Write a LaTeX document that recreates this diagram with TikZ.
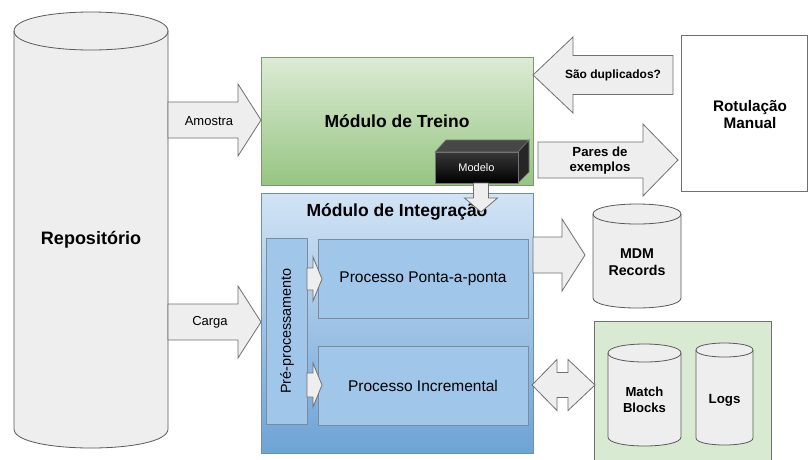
\documentclass[tikz,border=0pt]{standalone}
\usepackage{fontspec}
\setmainfont{Liberation Sans}

\definecolor{greenTop}{HTML}{DCEBD5}
\definecolor{greenBot}{HTML}{96C582}
\definecolor{greenEdge}{HTML}{7A9A6C}
\definecolor{blueTop}{HTML}{D2E4F5}
\definecolor{blueBot}{HTML}{6DA3D6}
\definecolor{blueEdge}{HTML}{6F8FB0}
\definecolor{procFill}{HTML}{A0C6EA}
\definecolor{procEdge}{HTML}{7D8C9C}
\definecolor{paleGrey}{HTML}{EEEEEE}
\definecolor{edgeGrey}{HTML}{707070}
\definecolor{storeFill}{HTML}{D9EAD3}

\tikzset{
  arrowbody/.style={draw=edgeGrey, fill=paleGrey, line width=0.8pt, line join=miter},
  drumstyle/.style={draw=edgeGrey!80!black, fill=paleGrey, line width=0.8pt},
  greenbox/.style={draw=greenEdge, top color=greenTop, bottom color=greenBot, line width=0.8pt, inner sep=0pt, outer sep=0pt},
  bluebox/.style={draw=blueEdge, top color=blueTop, bottom color=blueBot, line width=0.8pt, inner sep=0pt, outer sep=0pt},
  procbox/.style={draw=procEdge, fill=procFill, line width=0.8pt, inner sep=0pt, outer sep=0pt},
  plainbox/.style={draw=edgeGrey, fill=white, line width=0.8pt, inner sep=0pt, outer sep=0pt},
  storebox/.style={draw=edgeGrey, fill=storeFill, line width=0.8pt, inner sep=0pt, outer sep=0pt},
  txt/.style={inner sep=0pt, align=center},
}

% horizontal block arrow: start x, head base x, tip x, centre y, half body, half head
\newcommand{\hblock}[6]{%
  \draw[arrowbody] (#1,#4-#5) -- (#2,#4-#5) -- (#2,#4-#6) -- (#3,#4)
    -- (#2,#4+#6) -- (#2,#4+#5) -- (#1,#4+#5) -- cycle;}

% upright storage drum: left x, right x, top centre y, bottom centre y, half height of the rim
\newcommand{\drum}[5]{%
  \draw[drumstyle] (#1,#3) -- (#1,#4)
    .. controls (#1,#4+1.3333*#5) and (#2,#4+1.3333*#5) .. (#2,#4)
    -- (#2,#3)
    .. controls (#2,#3-1.3333*#5) and (#1,#3-1.3333*#5) .. (#1,#3) -- cycle;
  \draw[drumstyle, fill=none] (#1,#3)
    .. controls (#1,#3+1.3333*#5) and (#2,#3+1.3333*#5) .. (#2,#3);}

\begin{document}
\begin{tikzpicture}[x=1pt, y=-1pt]
  \clip (0,0) rectangle (808,459);
  \fill[white] (0,0) rectangle (808,459);

  % repository
  \drum{14}{168}{31}{429}{19}
  \node[txt, font=\bfseries\fontsize{18}{21}\selectfont] (repo) at (91,240) {Repositório};

  % inputs from the repository
  \hblock{168}{238}{261}{120}{18}{36}
  \node[txt, font=\fontsize{13}{15}\selectfont] (amostra) at (209,121) {Amostra};
  \hblock{168}{238}{261}{322}{18}{36}
  \node[txt, font=\fontsize{13}{15}\selectfont] (carga) at (210,322) {Carga};

  % training module
  \node[greenbox, minimum width=272pt, minimum height=128pt,
        font=\bfseries\fontsize{17.5}{21}\selectfont] (treino) at (397,121) {Módulo de Treino};

  % integration module
  \node[bluebox, minimum width=272pt, minimum height=260pt] (integ) at (397,323) {};
  \node[txt, font=\bfseries\fontsize{17.5}{21}\selectfont] (integtitle) at (397,212) {Módulo de Integração};

  \node[procbox, minimum width=41pt, minimum height=186pt] (pre) at (286.5,331) {};
  \node[txt, rotate=90, font=\fontsize{14.4}{17}\selectfont] (pretxt) at (287,331) {Pré-processamento};

  \node[procbox, minimum width=210pt, minimum height=79pt,
        font=\fontsize{15.5}{18}\selectfont] (ponta) at (423,278.5) {Processo Ponta-a-ponta};
  \node[procbox, minimum width=210pt, minimum height=79pt,
        font=\fontsize{15.5}{18}\selectfont] (incr) at (423,385.5) {Processo Incremental};

  \hblock{307}{313}{322}{279}{11}{22}
  \hblock{307}{313}{322}{385}{12}{22}

  % model block
  \fill[black!72, draw=black!55, line width=0.6pt] (435,152) -- (446,140) -- (529,140) -- (518,152) -- cycle;
  \fill[black!85, draw=black!55, line width=0.6pt] (518,152) -- (529,140) -- (529,172) -- (518,183) -- cycle;
  \shade[top color=black!78, bottom color=black, draw=black!55, line width=0.6pt] (435,152) rectangle (518,183);
  \node[txt, text=white, font=\fontsize{11}{13}\selectfont] (modelo) at (476.5,167.5) {Modelo};

  % model handed to the integration module
  \draw[arrowbody] (473.5,183) -- (488.5,183) -- (488.5,198) -- (497.5,198)
    -- (481,212) -- (464.5,198) -- (473.5,198) -- cycle;

  % manual labelling
  \node[plainbox, minimum width=126pt, minimum height=156pt] (rotul) at (744,113) {};
  \node[txt, font=\bfseries\fontsize{15.3}{17.5}\selectfont] (rotultxt) at (750,114.5) {Rotulação\\Manual};

  \hblock{673}{573}{533}{75}{19.5}{38}
  \node[txt, font=\bfseries\fontsize{12}{14}\selectfont] (dup) at (613,75) {São duplicados?};
  \hblock{538}{643}{678}{160}{18}{36}
  \node[txt, font=\bfseries\fontsize{13.2}{15.5}\selectfont] (pares) at (600,160.5) {Pares de\\exemplos};

  % MDM records
  \hblock{533}{562}{585}{255}{18}{36}
  \drum{593}{681}{214}{298}{10}
  \node[txt, font=\bfseries\fontsize{14.2}{17.5}\selectfont] (mdm) at (637,262) {MDM\\Records};

  % match blocks and logs store
  \node[storebox, minimum width=177pt, minimum height=160pt] (store) at (682.5,401) {};
  \drum{608}{681}{353}{437}{9}
  \node[txt, font=\bfseries\fontsize{13.1}{16}\selectfont] (match) at (644.5,400) {Match\\Blocks};
  \drum{696}{753}{350}{438}{7}
  \node[txt, font=\bfseries\fontsize{13.3}{16}\selectfont] (logs) at (724.5,400) {Logs};

  % two-way exchange with the store
  \draw[arrowbody] (532,385) -- (557,359.5) -- (557,372.5) -- (568,372.5) -- (568,359.5)
    -- (595,385) -- (568,410.5) -- (568,397.5) -- (557,397.5) -- (557,410.5) -- cycle;
\end{tikzpicture}
\end{document}
